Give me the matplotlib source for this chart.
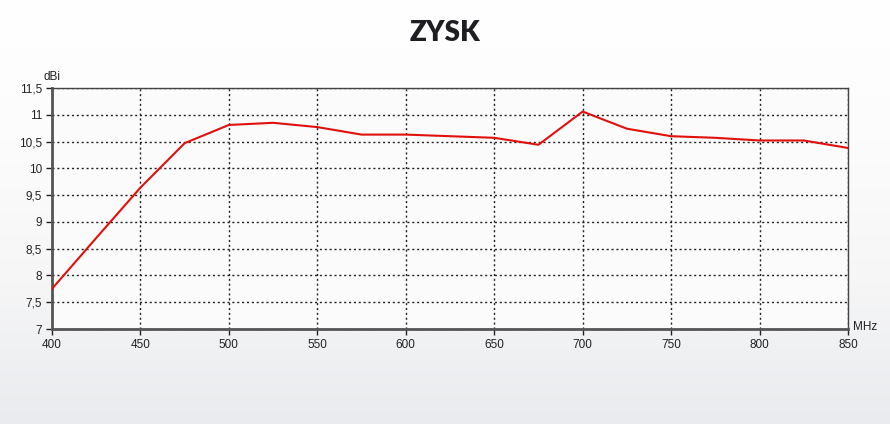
import numpy as np
import matplotlib
matplotlib.use("Agg")
import matplotlib.pyplot as plt
from matplotlib.colors import LinearSegmentedColormap

freq_mhz = [400, 425, 450, 475, 500, 525, 550, 575, 600, 625, 650, 675, 700, 725, 750, 775, 800, 825, 850]
gain_dbi = [7.75, 8.70, 9.64, 10.47, 10.81, 10.85, 10.77, 10.63, 10.63, 10.60, 10.57, 10.44, 11.06, 10.74, 10.60, 10.57, 10.52, 10.52, 10.38]
x_ticks = [400, 450, 500, 550, 600, 650, 700, 750, 800, 850]
x_tick_labels = ["400", "450", "500", "550", "600", "650", "700", "750", "800", "850"]
y_ticks = [7, 7.5, 8, 8.5, 9, 9.5, 10, 10.5, 11, 11.5]
y_tick_labels = ["7", "7,5", "8", "8,5", "9", "9,5", "10", "10,5", "11", "11,5"]
title = "ZYSK"

plt.rcParams['font.family'] = ['Liberation Sans', 'DejaVu Sans']

fig = plt.figure(figsize=(8.9, 4.24), dpi=100)

# background gradient
bg = fig.add_axes([0, 0, 1, 1], zorder=-10)
grad = np.linspace(0, 1, 256).reshape(-1, 1)
cmap = LinearSegmentedColormap.from_list("bg", ["#ffffff", "#fcfcfc", "#f6f6f7", "#e9ebee"])
bg.imshow(grad, aspect="auto", cmap=cmap, extent=[0, 1, 0, 1])
bg.set_axis_off()

ax = fig.add_axes([52/890, 1-329/424, (848-52)/890, (329-88)/424])
ax.set_facecolor("#fbfbfb")
ax.plot(freq_mhz, gain_dbi, color="#e0100c", lw=1.5, zorder=3)
ax.set_xlim(400, 850)
ax.set_ylim(7, 11.5)
ax.set_xticks(x_ticks)
ax.set_xticklabels(x_tick_labels)
ax.set_yticks(y_ticks)
ax.set_yticklabels(y_tick_labels)
ax.tick_params(axis='both', labelsize=8.5, colors="#222222", length=4, width=1, direction='out', pad=3)
ax.grid(True, color="#222222", linestyle=(0, (1.5, 2)), linewidth=1)
for s in ["left", "bottom"]:
    ax.spines[s].set_color("#555555")
    ax.spines[s].set_linewidth(2)
for s in ["top", "right"]:
    ax.spines[s].set_color("#444444")
    ax.spines[s].set_linewidth(1)

fig.text(52/890, 1-77/424, "dBi", fontsize=8.5, color="#222222", ha="center", va="center")
fig.text(865/890, 1-327/424, "MHz", fontsize=8.5, color="#222222", ha="center", va="center")
fig.text(0.5, 1-33/424, title, fontsize=20, fontweight="heavy", color="#1e1e22", ha="center", va="center", family=["Lato", "DejaVu Sans"])

fig.savefig("out.png", dpi=100)
